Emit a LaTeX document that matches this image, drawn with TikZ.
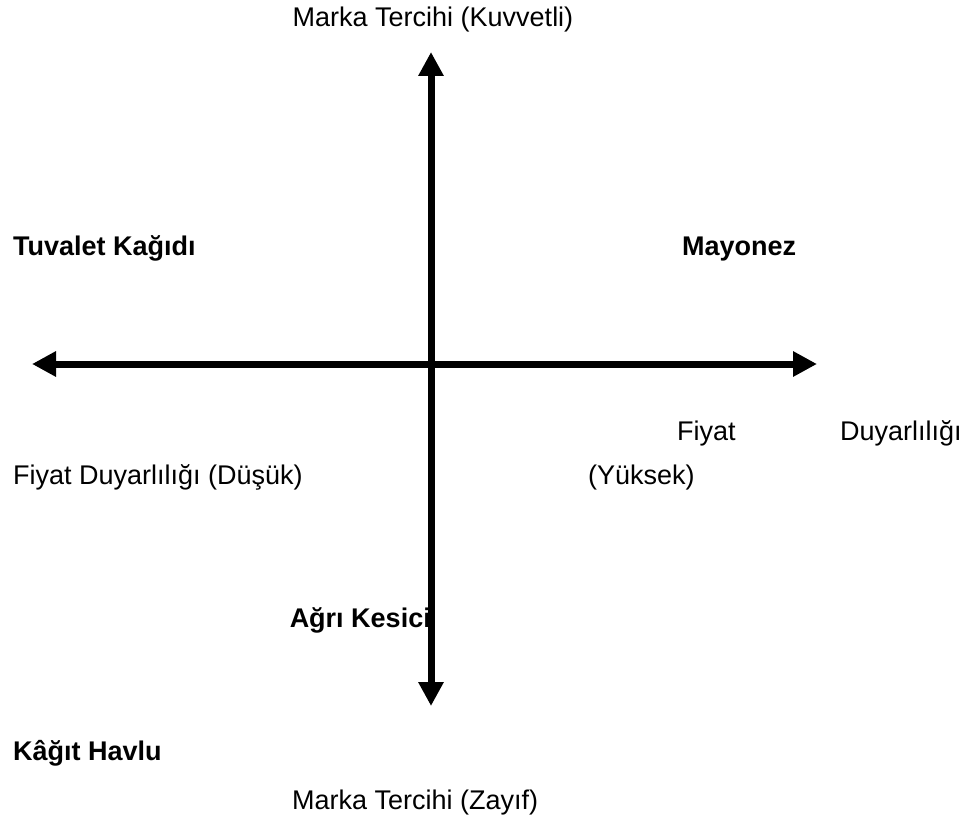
\documentclass[tikz,border=0pt]{standalone}
\usepackage{fontspec}
\setmainfont{Liberation Sans}
\usepackage{tikz}
\usetikzlibrary{arrows.meta, positioning}

\begin{document}
\begin{tikzpicture}[
    x=1pt, y=-1pt,
    axis/.style={
        line width=7pt,
        {Triangle[length=24pt,width=24pt]}-{Triangle[length=24pt,width=24pt]}
    },
    label/.style={
        inner sep=0pt,
        anchor=base west,
        font=\fontsize{27}{32}\selectfont
    },
    product/.style={
        label,
        font=\fontsize{27}{32}\selectfont\bfseries
    }
]
\useasboundingbox (0,0) rectangle (965,821);

% Axis end points
\coordinate (west) at (32,364);
\coordinate (east) at (817,364);
\coordinate (north) at (431,52);
\coordinate (south) at (431,706);

% Axes
\draw[axis] (west) -- (east);
\draw[axis] (north) -- (south);

% Axis labels
\node[label, anchor=base] (strong) at (433,27) {Marka Tercihi (Kuvvetli)};
\node[label] (weak) at (292,809) {Marka Tercihi (Zayıf)};
\node[label] (low) at (13,484) {Fiyat Duyarlılığı (Düşük)};
\node[label] (highA) at (677,440) {Fiyat};
\node[label] (highB) at (840,440) {Duyarlılığı};
\node[label] (highC) at (588,484) {(Yüksek)};

% Products
\node[product] (toilet) at (13,255) {Tuvalet Kağıdı};
\node[product] (mayo) at (682,255) {Mayonez};
\node[product, anchor=base east] (pain) at (431,627) {Ağrı Kesici};
\node[product] (towel) at (13,760) {Kâğıt Havlu};

\end{tikzpicture}
\end{document}
